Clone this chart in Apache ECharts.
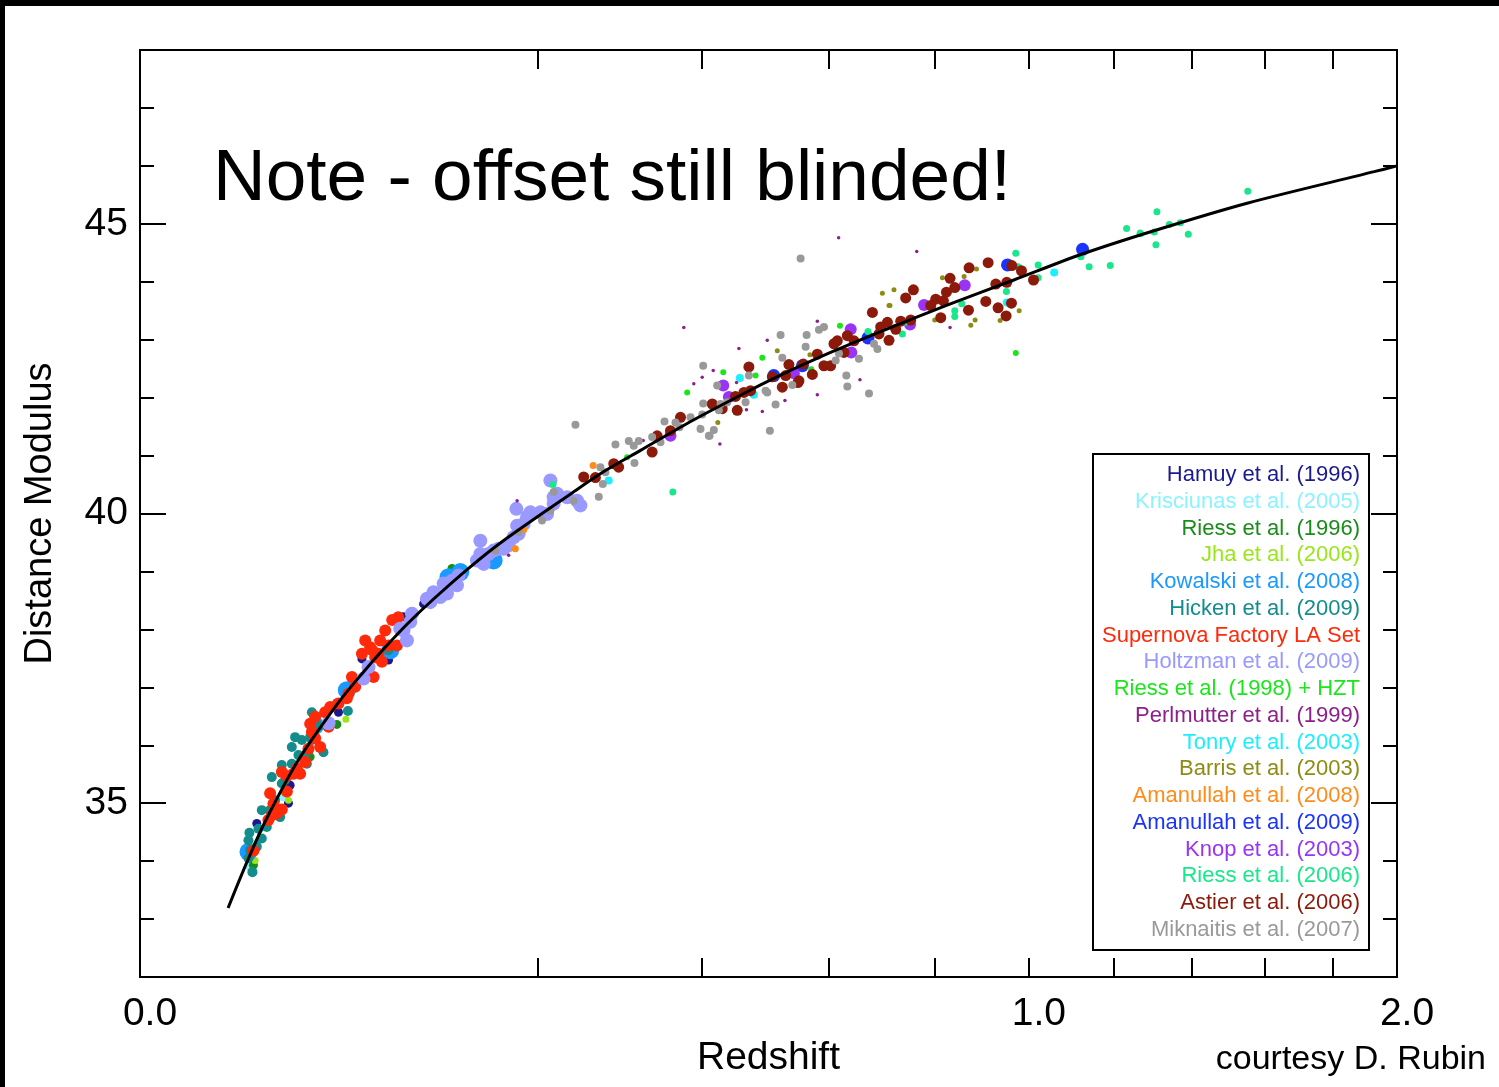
<!DOCTYPE html>
<html><head><meta charset="utf-8">
<script src="https://cdn.jsdelivr.net/npm/echarts@6/dist/echarts.min.js"></script>
<style>html,body{margin:0;padding:0;background:#fff}#c{width:1499px;height:1087px}</style>
</head><body><div id="c"></div>
<script>
// ---- axis ticks / labels (redshift values; the x axis is drawn in sqrt(z)) ----
const xTickRedshifts = [0.2, 0.4, 0.6, 0.8, 1.0, 1.2, 1.4, 1.6, 1.8];
const xLabelRedshifts = [0, 1, 2];
const yMajorTicks = [35, 40, 45];

// ---- data: [redshift, distance modulus] ----
const hamuy = [[0.01727,34.65],[0.02853,35.31],[0.0279,35.0],[0.04987,36.57],[0.06234,37.49],[0.0782,37.47],[0.0877,38.22],[0.1018,38.44]];
const krisciunas = [[0.01535,33.90],[0.02604,35.11],[0.01488,34.2]];
const riess96 = [[0.04906,36.36],[0.03665,35.80],[0.01628,33.93],[0.1232,39.05]];
const jha = [[0.05366,36.45],[0.0279,35.05],[0.01929,34.88],[0.01677,34.01],[0.01727,34.31]];
const kowalski = [[0.05416,36.95],[0.03884,36.34],[0.01488,34.16],[0.1299,38.99],[0.1583,39.19],[0.1205,38.90],[0.0793,37.64]];
const hicken = [[0.0160,33.81],[0.01488,34.05],[0.01535,34.19],[0.01727,34.25],[0.01488,34.36],[0.01878,34.39],[0.01515,34.49],[0.01775,34.56],[0.02036,34.59],[0.01878,34.88],[0.02143,34.88],[0.02486,34.76],[0.02311,35.05],[0.02546,35.34],[0.02666,35.40],[0.022,35.45],[0.02546,35.66],[0.02918,35.68],[0.03114,35.54],[0.03524,35.68],[0.03592,35.91],[0.03178,35.83],[0.02918,35.97],[0.03046,36.14],[0.03316,36.09],[0.0374,36.09],[0.03452,35.83],[0.0426,35.88],[0.03665,36.14],[0.04906,36.72],[0.0547,36.59],[0.0374,36.57],[0.0411,36.34],[0.0782,37.64]];
const snfactory = [[0.01628,34.18],[0.02729,35.20],[0.02143,35.17],[0.02253,34.99],[0.02546,34.89],[0.02369,34.82],[0.02087,34.71],[0.022,34.79],[0.03114,35.60],[0.0298,35.51],[0.03246,35.51],[0.02729,35.47],[0.02546,35.54],[0.03452,35.71],[0.0411,35.97],[0.03592,35.94],[0.03884,36.12],[0.0374,36.23],[0.03665,36.37],[0.03884,36.49],[0.0434,36.57],[0.0458,36.66],[0.045,36.32],[0.04987,36.72],[0.05503,36.89],[0.05416,36.81],[0.05862,37.01],[0.05684,37.18],[0.06234,37.58],[0.0671,37.69],[0.07003,37.52],[0.07406,37.44],[0.0782,37.72],[0.08354,37.72],[0.06905,37.18],[0.07203,37.58],[0.0761,37.98],[0.0805,38.16],[0.0844,38.21],[0.073,37.81],[0.0683,37.64],[0.0642,37.81]];
const holtzman = [[0.045,36.38],[0.0661,37.35],[0.06325,37.15],[0.0902,37.81],[0.0857,38.01],[0.0936,38.27],[0.0925,38.13],[0.0879,37.98],[0.1042,38.53],[0.1067,38.47],[0.1091,38.64],[0.1141,38.56],[0.1193,38.62],[0.1167,38.79],[0.1232,38.84],[0.1272,38.76],[0.1285,38.93],[0.1437,39.19],[0.1466,39.53],[0.1495,39.13],[0.1466,39.30],[0.1538,39.30],[0.1583,39.36],[0.1628,39.39],[0.1674,39.39],[0.172,39.45],[0.1767,39.59],[0.1815,39.65],[0.18,39.79],[0.1863,39.82],[0.1929,40.02],[0.1896,39.94],[0.2029,40.02],[0.2097,39.99],[0.2166,40.17],[0.2166,40.28],[0.2132,40.57],[0.2202,40.34],[0.2309,40.28],[0.2418,40.22],[0.2455,40.14],[0.1793,40.08]];
const riess98 = [[0.3003,40.97],[0.379,42.09],[0.4797,42.38],[0.4306,42.44],[0.5703,42.49],[0.6202,43.24],[0.4902,42.69],[0.9709,42.77]];
const perlmutter = [[0.18,40.22],[0.172,39.28],[0.4001,42.35],[0.3882,42.24],[0.4256,41.20],[0.4902,41.76],[0.5265,41.95],[0.3205,41.26],[0.4656,41.79],[0.3743,43.21],[0.4159,42.47],[0.454,42.85],[0.498,42.99],[0.4505,42.26],[0.5807,43.32],[0.5807,42.05],[0.6561,42.31],[0.7637,44.52],[0.8306,43.21],[0.6178,44.76]];
const tonry = [[0.2781,40.57],[0.4769,42.05],[0.4555,42.34],[0.951,43.64],[1.0578,44.16]];
const barris = [[0.3968,41.49],[0.4226,41.57],[0.5681,42.74],[0.5141,42.81],[0.7101,43.59],[0.7995,43.34],[0.6976,43.80],[0.7196,43.86],[0.712,43.59],[0.815,44.07],[0.8597,44.09],[0.8857,44.22],[0.8737,43.25],[0.8827,43.34],[0.9364,43.33],[0.9783,43.50]];
const amanullah08 = [[0.1863,39.72],[0.1783,39.39],[0.2599,40.83]];
const amanullah09 = [[0.5084,42.38],[0.5553,42.55],[0.6708,43.03],[1.1245,44.56],[0.9526,44.29]];
const knop = [[0.4306,42.21],[0.4389,42.01],[0.5412,42.42],[0.6393,43.18],[0.6404,42.78],[0.7506,43.26],[0.7781,43.60],[0.861,43.94],[0.3562,41.34]];
const riess06 = [[0.2159,40.5],[0.3594,40.37],[0.6708,43.14],[0.7357,43.10],[0.7402,43.30],[0.8403,43.50],[0.8403,43.40],[0.8548,43.62],[0.9502,43.83],[0.9709,44.49],[0.9761,44.26],[1.0211,44.29],[1.0211,44.07],[0.932,43.55],[1.1206,44.43],[1.1404,44.26],[1.1916,44.28],[1.2663,44.83],[1.2321,44.92],[1.2663,44.84],[1.3021,44.86],[1.309,45.21],[1.3064,44.64],[1.341,44.99],[1.3699,45.02],[1.391,44.82],[1.5533,45.56]];
const astier = [[0.2492,40.63],[0.2625,40.62],[0.2841,40.86],[0.29,40.80],[0.332,41.06],[0.3385,41.34],[0.3562,41.43],[0.3698,41.66],[0.4145,41.89],[0.4291,41.81],[0.4515,41.78],[0.4489,42.02],[0.4616,42.09],[0.4719,42.12],[0.5061,42.36],[0.5222,42.18],[0.5277,42.38],[0.5479,42.26],[0.4693,42.53],[0.533,42.57],[0.5496,42.29],[0.5569,42.58],[0.5722,42.40],[0.5807,42.75],[0.5921,42.55],[0.6037,42.55],[0.6096,42.93],[0.6155,42.98],[0.6273,42.78],[0.6333,43.07],[0.6453,42.98],[0.679,43.47],[0.6944,43.22],[0.6913,43.10],[0.7101,42.99],[0.7071,43.30],[0.7229,43.18],[0.7325,43.32],[0.7519,43.34],[0.7914,43.59],[0.8116,43.38],[0.7421,43.72],[0.7571,43.86],[0.8015,43.70],[0.817,43.67],[0.8232,43.82],[0.8306,44.06],[0.8403,43.90],[0.8701,44.24],[0.8688,43.51],[0.9055,43.66],[0.9105,44.33],[0.9271,43.96],[0.932,43.55],[0.951,43.99],[0.9495,43.41],[0.9613,43.63],[0.9621,44.28],[0.9835,44.19],[1.0106,44.03]];
const miknaitis = [[0.2166,40.37],[0.2381,40.22],[0.2132,40.05],[0.2046,39.88],[0.1815,39.68],[0.1598,39.36],[0.2664,40.29],[0.24,41.53],[0.2711,40.51],[0.2683,40.80],[0.2861,41.19],[0.3024,41.25],[0.3086,41.17],[0.3149,41.25],[0.3095,40.87],[0.332,41.32],[0.3429,41.23],[0.3482,41.59],[0.363,41.57],[0.3684,41.49],[0.3836,41.66],[0.4015,41.90],[0.4001,41.71],[0.4168,41.44],[0.4096,41.34],[0.4266,41.89],[0.4241,41.78],[0.4365,41.92],[0.4642,41.92],[0.5022,41.43],[0.5113,41.88],[0.498,42.09],[0.2742,40.71],[0.4217,42.21],[0.5386,42.22],[0.4015,42.55],[0.4693,42.38],[0.5194,43.08],[0.5625,43.08],[0.5608,42.88],[0.5222,42.69],[0.5921,43.22],[0.5835,43.17],[0.6126,42.64],[0.6184,42.76],[0.6543,42.67],[0.6315,42.38],[0.6333,42.19],[0.6727,42.07],[0.6819,42.93],[0.6883,42.84],[0.4106,41.34],[0.3977,41.46],[0.4954,42.12],[0.5524,44.40]];

// ---- model curve ----
const curveRedshift = [0.00982,0.01452,0.0198,0.0317,0.0497,0.0625,0.0761,0.0911,0.1089,0.1364,0.1671,0.2367,0.2719,0.3171,0.374,0.4164,0.4875,0.5194,0.6037,0.6944,0.8259,0.9665,1.1206,1.3014,1.554,1.928,2.0];
const curveModulus  = [33.19,33.99,34.68,35.74,36.73,37.24,37.69,38.11,38.52,39.05,39.53,40.36,40.72,41.09,41.52,41.80,42.22,42.39,42.78,43.14,43.60,44.03,44.47,44.88,45.36,45.90,46.00];

const seriesNames = ['Hamuy et al. (1996)','Krisciunas et al. (2005)','Riess et al. (1996)','Jha et al. (2006)','Kowalski et al. (2008)','Hicken et al. (2009)','Supernova Factory LA Set','Holtzman et al. (2009)','Riess et al. (1998) + HZT','Perlmutter et al. (1999)','Tonry et al. (2003)','Barris et al. (2003)','Amanullah et al. (2008)','Amanullah et al. (2009)','Knop et al. (2003)','Riess et al. (2006)','Astier et al. (2006)','Miknaitis et al. (2007)'];
const seriesData = [hamuy,krisciunas,riess96,jha,kowalski,hicken,snfactory,holtzman,riess98,perlmutter,tonry,barris,amanullah08,amanullah09,knop,riess06,astier,miknaitis];

// ---- styles ----
const seriesColors = ['#1a1a8e','#8cf2ff','#1a8c1a','#99e61a','#1a99ff','#148c8c','#ff2a0a','#9999ff','#1ae61a','#8c1f8c','#1aeeff','#8c8c14','#ff8c1a','#1a33ff','#9933f5','#1ae68c','#8c1a0a','#999999'];
const seriesSizes = [9,9,9,7,18,10,12,14,6,3.5,8,5,7,13,12,7,11,8];

const FONT = '"Liberation Sans", Arial, Helvetica, sans-serif';
const sq = Math.sqrt;

const chart = echarts.init(document.getElementById('c'), null, {renderer: 'canvas'});

const axisLine = {show: true, lineStyle: {color: '#000', width: 2}};
const xCommon = {
  type: 'value', min: 0, max: Math.SQRT2, splitLine: {show: false}, axisLine,
  axisTick: {show: true, inside: true, length: 19, lineStyle: {color: '#000', width: 2},
             customValues: xTickRedshifts.map(sq)}
};
const yMinor = {
  type: 'value', min: 32, max: 48, interval: 1, splitLine: {show: false}, axisLine,
  axisTick: {show: true, inside: true, length: 14, lineStyle: {color: '#000', width: 2}},
  axisLabel: {show: false}
};
const yMajor = {
  type: 'value', min: 32, max: 48, splitLine: {show: false}, axisLine,
  axisTick: {show: true, inside: true, length: 26, lineStyle: {color: '#000', width: 2},
             customValues: yMajorTicks}
};

const series = seriesData.map((d, i) => ({
  name: seriesNames[i], type: 'scatter', xAxisIndex: 0, yAxisIndex: 0,
  symbol: 'circle', symbolSize: seriesSizes[i],
  itemStyle: {color: seriesColors[i], opacity: 1},
  data: d.map(p => [sq(p[0]), p[1]]), z: 2
}));
series.push({
  name: 'model', type: 'line', xAxisIndex: 0, yAxisIndex: 0, showSymbol: false,
  smooth: 0.3,
  lineStyle: {color: '#000', width: 3},
  data: curveRedshift.map((z, i) => [sq(z), curveModulus[i]]), z: 5
});

const legendY0 = 475, legendDy = 26.76;
const graphics = [
  {type: 'rect', shape: {x: 0, y: 0, width: 1499, height: 6}, style: {fill: '#000'}, z: 100},
  {type: 'rect', shape: {x: 0, y: 0, width: 5, height: 1087}, style: {fill: '#000'}, z: 100},
  {type: 'text', style: {text: 'Note - offset still blinded!', x: 213, y: 180, textVerticalAlign: 'middle',
    font: '73px ' + FONT, fill: '#000'}, z: 100},
  {type: 'text', style: {text: 'courtesy D. Rubin', x: 1486, y: 1060, textAlign: 'right', textVerticalAlign: 'middle',
    font: '34px ' + FONT, fill: '#000'}, z: 100},
  {type: 'rect', shape: {x: 1093, y: 454, width: 276, height: 496}, style: {fill: '#fff', stroke: '#000', lineWidth: 2}, z: 100}
];
seriesNames.forEach((n, i) => {
  graphics.push({type: 'text', z: 101, style: {text: n, x: 1360, y: legendY0 + i * legendDy,
    textAlign: 'right', textVerticalAlign: 'middle', font: '22px ' + FONT, fill: seriesColors[i]}});
});

chart.setOption({
  animation: false,
  backgroundColor: '#fff',
  grid: {left: 140, top: 50, right: 102, bottom: 110, containLabel: false},
  xAxis: [
    Object.assign({}, xCommon, {position: 'bottom',
      axisLabel: {show: true, customValues: xLabelRedshifts.map(sq), margin: 18, padding: [0, 0, 0, 20],
        fontSize: 39, fontFamily: FONT, color: '#000', formatter: v => (v * v).toFixed(1)},
      name: 'Redshift', nameLocation: 'middle', nameGap: 60,
      nameTextStyle: {fontSize: 39, fontFamily: FONT, color: '#000'}}),
    Object.assign({}, xCommon, {position: 'top', axisLabel: {show: false}})
  ],
  yAxis: [
    Object.assign({}, yMinor, {position: 'left'}),
    Object.assign({}, yMajor, {position: 'left',
      axisLabel: {show: true, customValues: yMajorTicks, margin: 12, fontSize: 39, fontFamily: FONT, color: '#000'},
      name: 'Distance Modulus', nameLocation: 'middle', nameGap: 80,
      nameTextStyle: {fontSize: 38, fontFamily: FONT, color: '#000'}}),
    Object.assign({}, yMinor, {position: 'right'}),
    Object.assign({}, yMajor, {position: 'right', axisLabel: {show: false}})
  ],
  series,
  graphic: graphics
});
</script>
</body></html>
